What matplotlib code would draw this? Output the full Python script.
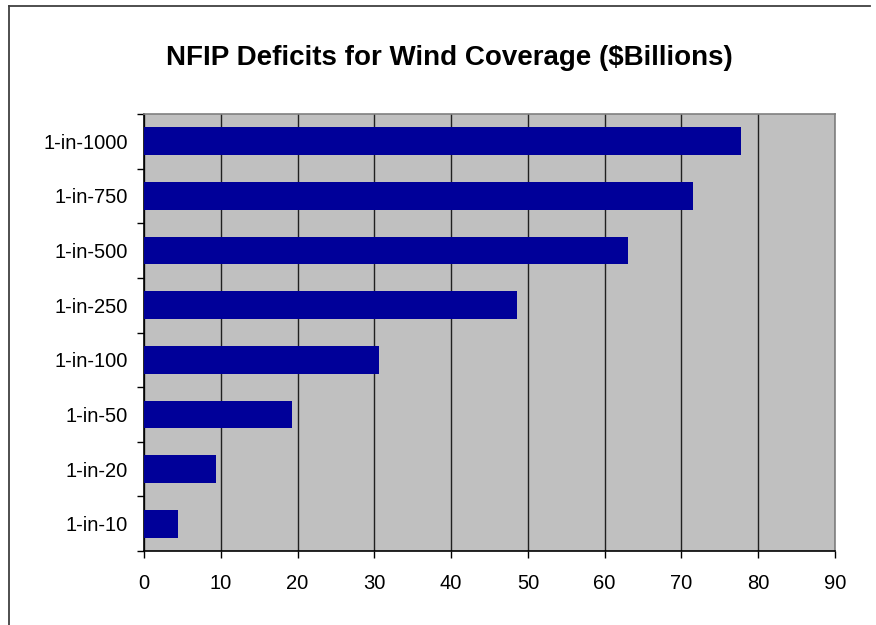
import matplotlib.pyplot as plt
from matplotlib.lines import Line2D
import numpy as np

plt.rcParams['font.family'] = ['Liberation Sans', 'DejaVu Sans']

# данные
categories = ['1-in-10', '1-in-20', '1-in-50', '1-in-100', '1-in-250', '1-in-500', '1-in-750', '1-in-1000']
deficits = [4.4, 9.4, 19.3, 30.6, 48.6, 63.0, 71.5, 77.7]
xticks = [0, 10, 20, 30, 40, 50, 60, 70, 80, 90]

fig = plt.figure(figsize=(8.76, 6.25), dpi=100)
ax = fig.add_axes([0.1644, 0.1184, 0.7888, 0.6992])

pos = np.arange(len(categories))
ax.set_axisbelow(True)
ax.set_facecolor('#c0c0c0')
ax.barh(pos, deficits, height=0.51, color='#000099', zorder=3)

ax.set_xlim(0, 90)
ax.set_ylim(-0.5, len(categories) - 0.5)
ax.set_xticks(xticks)
ax.set_xticklabels([str(t) for t in xticks], fontsize=14.5)
ax.tick_params(axis='x', direction='out', length=5, width=1, pad=11.5, colors='black')

# деления по границам категорий, подписи по центрам
ax.set_yticks(np.arange(-0.5, len(categories), 1.0))
ax.set_yticklabels([])
ax.set_yticks(pos, minor=True)
ax.set_yticklabels(categories, minor=True, fontsize=14.5)
ax.tick_params(axis='y', which='major', direction='out', length=5, width=1)
ax.tick_params(axis='y', which='minor', length=0, pad=11.5)

ax.grid(axis='x', color='#202020', linewidth=1, zorder=0)
ax.spines['left'].set_color('black')
ax.spines['bottom'].set_color('black')
ax.spines['top'].set_color('#808080')
ax.spines['right'].set_color('#808080')
for s in ax.spines.values():
    s.set_linewidth(1.2)

fig.text(0.5126, 0.907, 'NFIP Deficits for Wind Coverage ($Billions)', ha='center', va='center',
         fontsize=20, fontweight='bold')

# рамка диаграммы
fig.add_artist(Line2D([0.0103, 0.0103], [0.0, 0.990], color='#404040', linewidth=1.3))
fig.add_artist(Line2D([0.0103, 0.993], [0.990, 0.990], color='#404040', linewidth=1.3))

fig.savefig('out.png', dpi=100)
